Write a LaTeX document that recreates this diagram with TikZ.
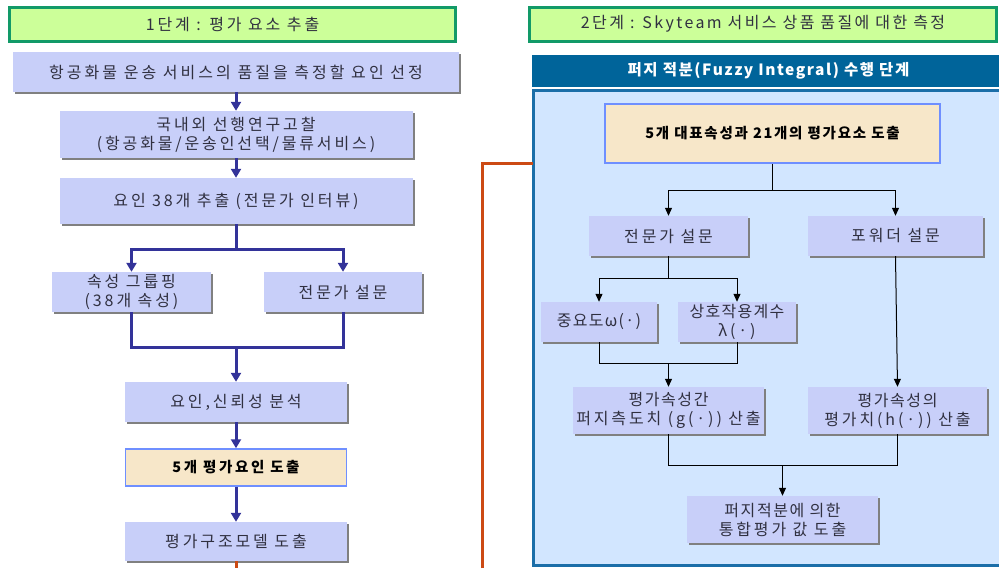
\documentclass[tikz,border=0pt]{standalone}
\usepackage{fontspec}
\setmainfont{Noto Sans CJK KR}[LetterSpace=18]
\usetikzlibrary{arrows.meta,shadows}
\definecolor{lav}{HTML}{C8CFF9}
\definecolor{beige}{HTML}{F7E7C9}
\definecolor{bbord}{HTML}{6F8FFF}
\definecolor{hfill}{HTML}{CCFF99}
\definecolor{hbord}{HTML}{129A68}
\definecolor{navy}{HTML}{333399}
\definecolor{orng}{HTML}{CC4A14}
\definecolor{pfill}{HTML}{D2E6FF}
\definecolor{pbord}{HTML}{1B6EA8}
\definecolor{tbar}{HTML}{00649A}
\definecolor{txt}{HTML}{303040}
\tikzset{
  lavbox/.style={fill=lav, draw=none, text=txt, align=center, inner sep=0pt,
    font=\fontsize{16}{19}\selectfont,
    drop shadow={shadow xshift=2pt, shadow yshift=-2pt, fill=black!50, opacity=1}},
  beigebox/.style={fill=beige, draw=bbord, line width=1.5pt, text=black, align=center, inner sep=0pt,
    font=\fontsize{14.5}{18.5}\selectfont\bfseries},
  hdr/.style={fill=hfill, draw=hbord, line width=3pt, text=txt, inner sep=0pt,
    font=\fontsize{16}{19}\selectfont},
  larr/.style={draw=navy, line width=3pt, -{Triangle[length=9pt,width=10pt]}},
  lline/.style={draw=navy, line width=3pt},
  rarr/.style={draw=black, line width=1pt, -{Triangle[length=8pt,width=7pt]}},
  rline/.style={draw=black, line width=1pt},
  oline/.style={draw=orng, line width=3pt}
}
\begin{document}
\begin{tikzpicture}[x=1pt,y=-1pt]
\useasboundingbox (0,0) rectangle (999,568);
% headers
\node[hdr, minimum width=446pt, minimum height=34pt] (h1) at (232.5,24) {1단계 : 평가 요소 추출};
\node[hdr, minimum width=467pt, minimum height=34pt] (h2) at (763,24) {\addfontfeature{LetterSpace=15}2단계 : Skyteam 서비스 상품 품질에 대한 측정};
% right panel
\fill[tbar] (532,55) rectangle (1010,87);
\node[text=white, font=\fontsize{15.5}{18.5}\selectfont\bfseries, inner sep=0pt] (title) at (768.5,71) {\addfontfeature{LetterSpace=10}퍼지 적분(Fuzzy Integral) 수행 단계};
\draw[fill=pfill, draw=pbord, line width=3pt] (533.5,90.5) rectangle (1010,565.5);
\coordinate (pin) at (533,163);
% left column
\node[lavbox, minimum width=446pt, minimum height=40pt] (b1) at (236,72) {\addfontfeature{LetterSpace=19}항공화물 운송 서비스의 품질을 측정할 요인 선정};
\node[lavbox, minimum width=353pt, minimum height=47pt] (b2) at (236,134.5) {국내외 선행연구고찰\\(항공화물/운송인선택/물류서비스)};
\node[lavbox, minimum width=353pt, minimum height=46pt] (b3) at (236,201) {요인 38개 추출 (전문가 인터뷰)};
\node[lavbox, minimum width=159pt, minimum height=40pt] (b4) at (131.5,292) {속성 그룹핑\\(38개 속성)};
\node[lavbox, minimum width=158pt, minimum height=40pt] (b5) at (343,292) {전문가 설문};
\node[lavbox, minimum width=222pt, minimum height=40pt] (b6) at (236,402) {요인,신뢰성 분석};
\node[beigebox, minimum width=221pt, minimum height=37pt] (b7) at (236,467.5) {5개 평가요인 도출};
\node[lavbox, minimum width=222pt, minimum height=39pt] (b8) at (236,541.5) {평가구조모델 도출};
\coordinate (br1) at (236,249);
\coordinate (mg1) at (236,347);
\draw[larr] (b1) -- (b2);
\draw[larr] (b2) -- (b3);
\draw[lline] (b3.south) -- (br1);
\draw[larr] (br1) -| (b4.north);
\draw[larr] (br1) -| (b5.north);
\draw[lline] (b4.south) |- (mg1);
\draw[lline] (b5.south) |- (mg1);
\draw[larr] (mg1) -- (b6.north);
\draw[larr] (b6) -- (b7);
\draw[larr] (b7) -- (b8);
% orange link
\coordinate (o0) at (236,568);
\coordinate (o1) at (482,568);
\draw[oline] (b8.south) -- (o0);
\draw[oline] (o1) |- (pin);
% right column
\node[beigebox, minimum width=335pt, minimum height=59pt] (A) at (772.5,133.5) {\addfontfeature{LetterSpace=12}5개 대표속성과 21개의 평가요소 도출};
\node[lavbox, minimum width=159pt, minimum height=40pt] (B) at (668.5,236) {전문가 설문};
\node[lavbox, minimum width=175pt, minimum height=40pt] (C) at (895.5,236) {포워더 설문};
\node[lavbox, minimum width=116pt, minimum height=40pt] (D) at (599,322) {\addfontfeature{LetterSpace=8}중요도ω(·)};
\node[lavbox, minimum width=118pt, minimum height=40pt] (E) at (737,322) {\addfontfeature{LetterSpace=8}상호작용계수\\λ(·)};
\node[lavbox, minimum width=191pt, minimum height=47pt] (F) at (668.5,410.5) {\addfontfeature{LetterSpace=10}평가속성간\\퍼지측도치 (g(·)) 산출};
\node[lavbox, minimum width=179pt, minimum height=47pt] (G) at (897.5,410.5) {\addfontfeature{LetterSpace=10}평가속성의\\평가치(h(·)) 산출};
\node[lavbox, minimum width=191pt, minimum height=47pt] (H) at (782.5,519.5) {\addfontfeature{LetterSpace=10}퍼지적분에 의한\\통합평가 값 도출};
\coordinate (r1) at (772.5,190);
\coordinate (r2) at (668.5,278);
\coordinate (r3) at (668.5,363);
\coordinate (r4) at (782.5,465);
\draw[rline] (A.south) -- (r1);
\draw[rarr] (r1) -| (B.north);
\draw[rarr] (r1) -| (C.north);
\draw[rline] (B.south) -- (r2);
\draw[rarr] (r2) -| (D.north);
\draw[rarr] (r2) -| (E.north);
\draw[rline] (D.south) |- (r3);
\draw[rline] (E.south) |- (r3);
\draw[rarr] (r3) -- (F.north);
\draw[rarr] (C.south) -- (G.north);
\draw[rline] (F.south) |- (r4);
\draw[rline] (G.south) |- (r4);
\draw[rarr] (r4) -- (H.north);
\end{tikzpicture}
\end{document}
